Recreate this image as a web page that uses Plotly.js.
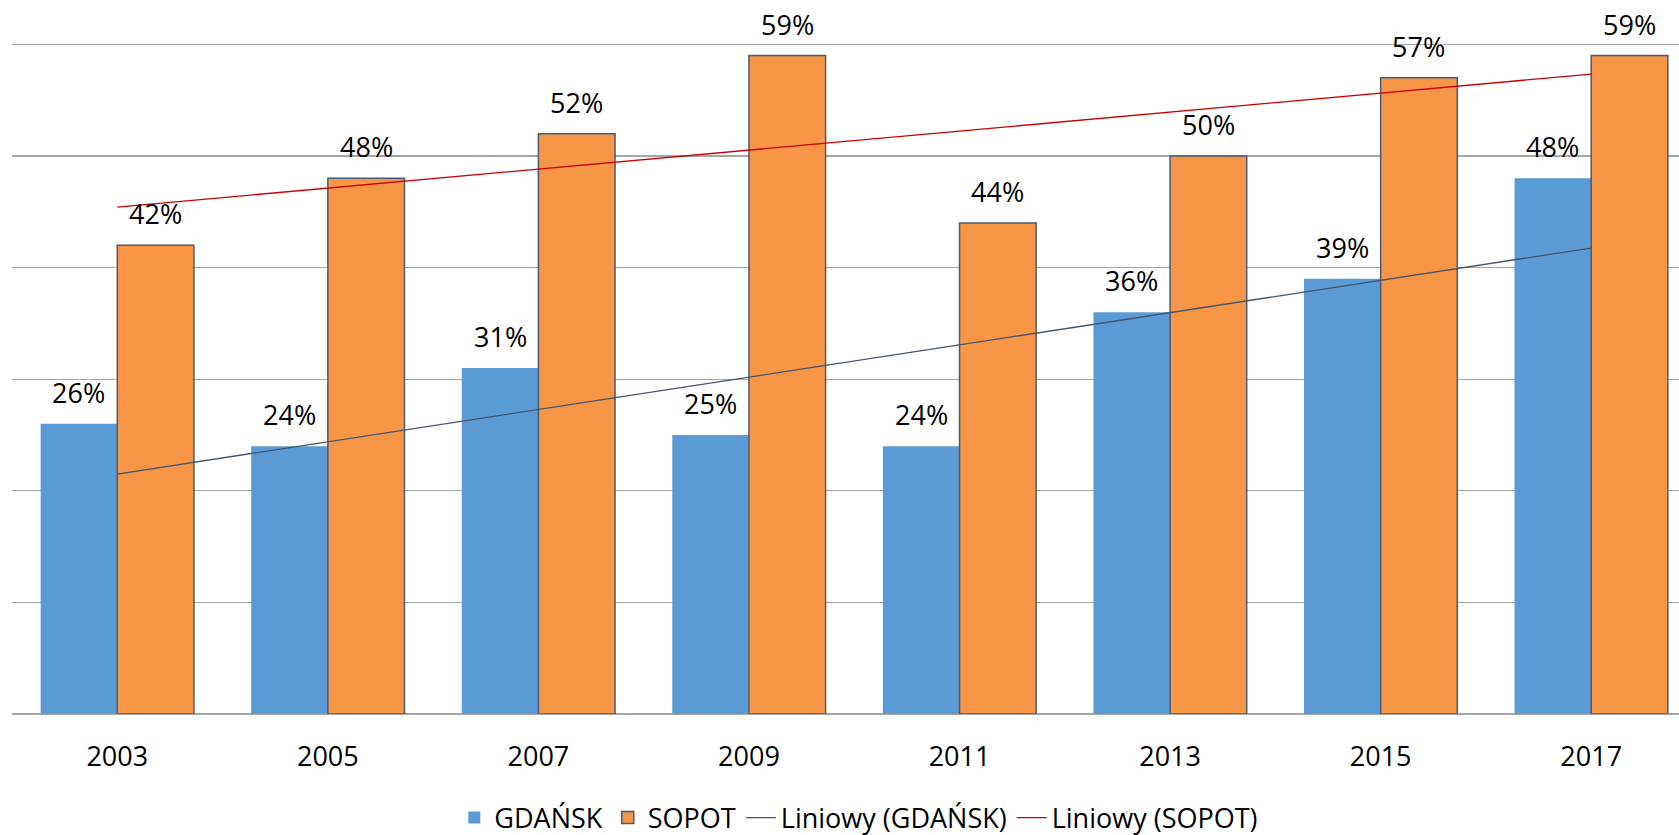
<!DOCTYPE html>
<html>
<head>
<meta charset="utf-8">
<script src="https://cdn.plot.ly/plotly-3.0.1.min.js"></script>
<style>html,body{margin:0;padding:0;background:#fff;}#chart{width:1679px;height:835px;}</style>
</head>
<body>
<div id="chart"></div>
<script>
const years = ['2003','2005','2007','2009','2011','2013','2015','2017'];
const gdansk = [0.26, 0.24, 0.31, 0.25, 0.24, 0.36, 0.39, 0.48];
const sopot = [0.42, 0.48, 0.52, 0.59, 0.44, 0.50, 0.57, 0.59];
const seriesNames = ['GDAŃSK', 'SOPOT', 'Liniowy (GDAŃSK)', 'Liniowy (SOPOT)'];

function linearTrend(vals) {
  const n = vals.length;
  const xs = vals.map((_, i) => i + 1);
  const mx = xs.reduce((a, b) => a + b, 0) / n;
  const my = vals.reduce((a, b) => a + b, 0) / n;
  let sxy = 0, sxx = 0;
  for (let i = 0; i < n; i++) { sxy += (xs[i] - mx) * (vals[i] - my); sxx += (xs[i] - mx) ** 2; }
  const slope = sxy / sxx;
  return xs.map(x => my + slope * (x - mx));
}

const FONT = 'Open Sans, Liberation Sans, sans-serif';
const BARGAP = 0.272;
const off = (1 - BARGAP) / 4;

const traces = [
  { type: 'bar', name: seriesNames[0], x: years, y: gdansk,
    marker: { color: '#5B9BD5', line: { width: 0 } } },
  { type: 'bar', name: seriesNames[1], x: years, y: sopot,
    marker: { color: '#F79646', line: { color: '#4A5A72', width: 1.5 } } },
  { type: 'scatter', mode: 'lines', name: seriesNames[2], x: years, y: linearTrend(gdansk),
    line: { color: '#44546A', width: 1.3 } },
  { type: 'scatter', mode: 'lines', name: seriesNames[3], x: years, y: linearTrend(sopot),
    line: { color: '#CC0000', width: 1.3 } }
];

const annotations = [];
years.forEach((yr, i) => {
  annotations.push({ x: i - off, y: gdansk[i], xref: 'x', yref: 'y', text: Math.round(gdansk[i] * 100) + '%',
    showarrow: false, yanchor: 'bottom', yshift: 11, font: { family: FONT, size: 27, color: '#000' } });
  annotations.push({ x: i + off, y: sopot[i], xref: 'x', yref: 'y', text: Math.round(sopot[i] * 100) + '%',
    showarrow: false, yanchor: 'bottom', yshift: 11, font: { family: FONT, size: 27, color: '#000' } });
});

const layout = {
  width: 1679, height: 835,
  margin: { l: 12, r: 0, t: 43, b: 121, autoexpand: false },
  paper_bgcolor: '#fff', plot_bgcolor: '#fff',
  barmode: 'group', bargap: BARGAP, bargroupgap: 0,
  showlegend: true,
  legend: { orientation: 'h', x: 0.508, xanchor: 'center', y: -0.155, yanchor: 'middle',
    font: { family: FONT, size: 27, color: '#000' }, traceorder: 'normal' },
  xaxis: { type: 'category', range: [-0.5, 7.417], showgrid: false, showline: false, zeroline: false,
    ticks: 'outside', ticklen: 19, tickcolor: 'rgba(0,0,0,0)',
    tickfont: { family: FONT, size: 27, color: '#000' } },
  yaxis: { range: [0, 0.6012], dtick: 0.1, showticklabels: false, showgrid: true,
    gridcolor: '#A6A6A6', gridwidth: 1.3, zeroline: true, zerolinecolor: '#A6A6A6', zerolinewidth: 1.3,
    showline: false, ticks: '' },
  annotations: annotations
};

Plotly.newPlot('chart', traces, layout, { displayModeBar: false, staticPlot: true });
</script>
</body>
</html>
